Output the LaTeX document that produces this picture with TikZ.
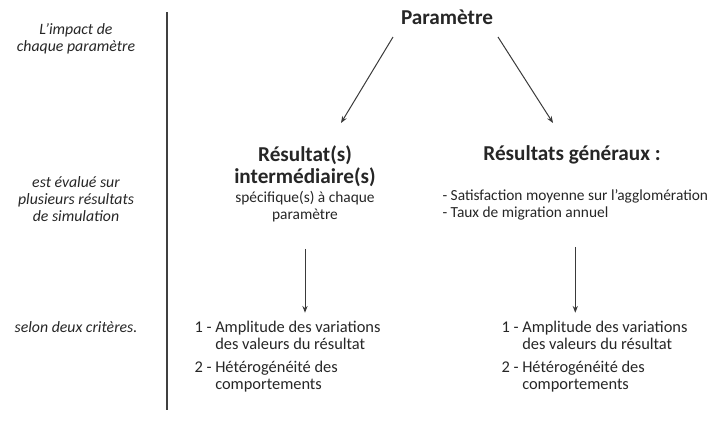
\documentclass[tikz,border=0pt]{standalone}
\usepackage{fontspec}
\setmainfont{Carlito}
\usetikzlibrary{arrows.meta,calc}
\definecolor{ink}{HTML}{262626}
\definecolor{ink2}{HTML}{3A3A3A}
\definecolor{rule}{HTML}{404040}
\tikzset{
  >={Stealth[length=3.4pt,width=2.6pt]},
  every picture/.style={line width=0.5pt,draw=ink2},
  hd/.style={font=\fontsize{10.6}{11}\selectfont\bfseries,text=ink,align=center,inner sep=1pt},
  sub/.style={font=\fontsize{7.7}{8.5}\selectfont,text=ink,align=center,inner sep=1pt},
  lst/.style={font=\fontsize{7.7}{8.5}\selectfont,text=ink,align=left,inner sep=1pt},
  crit/.style={font=\fontsize{8.2}{8.5}\selectfont,text=ink,align=left,inner sep=1pt,anchor=west},
  side/.style={font=\fontsize{7.9}{8.5}\selectfont\itshape,text=ink,align=center,inner sep=1pt},
  arr/.style={->,draw=ink2},
}

\begin{document}
\begin{tikzpicture}[x=0.5pt,y=-0.5pt]
  \useasboundingbox (0,0) rectangle (715,430);
  % left column
  \node[side] (imp) at (76,38.5) {L’impact de\\chaque paramètre};
  \node[side] (eva) at (76,199) {est évalué sur\\plusieurs résultats\\de simulation};
  \node[side] (sel) at (76,327) {selon deux critères.};
  \draw[rule,line width=0.9pt] (167,12) -- (167,410);
  % diagram
  \node[hd,anchor=base] (par) at (447,24) {Paramètre};
  \node[hd] (resi) at (305,166) {Résultat(s)\\intermédiaire(s)};
  \node[sub] (spec) at (305,207) {spécifique(s) à chaque\\paramètre};
  \node[hd] (resg) at (572,155) {Résultats généraux :};
  \node[lst,anchor=west] (gen) at (440,205) {- Satisfaction moyenne sur l’agglomération\\- Taux de migration annuel};
  \node[crit] (ia) at (192,335.5) {1 - Amplitude des variations\\\phantom{1 - }des valeurs du résultat};
  \node[crit] (ib) at (192,376.5) {2 - Hétérogénéité des\\\phantom{2 - }comportements};
  \node[crit] (ga) at (499,335.5) {1 - Amplitude des variations\\\phantom{1 - }des valeurs du résultat};
  \node[crit] (gb) at (499,376.5) {2 - Hétérogénéité des\\\phantom{2 - }comportements};
  \draw[arr] ($(par.base)+(-54,13)$) -- ($(resi)+(36,-43)$);
  \draw[arr] ($(par.base)+(51,13)$) -- ($(resg)+(-19,-32)$);
  \draw[arr,shorten <=12pt,shorten >=3pt] (spec.south) -- (spec.south |- ia.north);
  \draw[arr,shorten <=12pt,shorten >=3pt] (gen.south) -- (gen.south |- ga.north);
\end{tikzpicture}
\end{document}
